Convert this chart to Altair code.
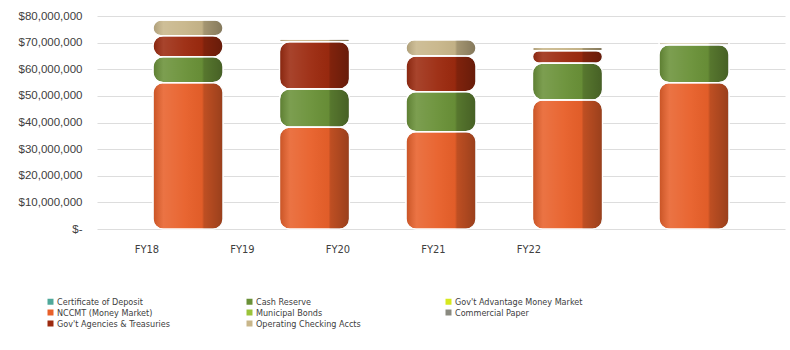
import altair as alt
import pandas as pd

years = ["FY18", "FY19", "FY20", "FY21", "FY22"]

# legend entries in the order the 3-column legend fills (column by column)
legend_series = [
    "Certificate of Deposit",
    "NCCMT (Money Market)",
    "Gov't Agencies & Treasuries",
    "Cash Reserve",
    "Municipal Bonds",
    "Operating Checking Accts",
    "Gov't Advantage Money Market",
    "Commercial Paper",
]
legend_colors = [
    "#4FA89A",
    "#E8602A",
    "#9C2A0F",
    "#6A9138",
    "#9BC33A",
    "#C8B68A",
    "#D6E81E",
    "#8A8A80",
]

# values (dollars)
nccmt = [55.0e6, 38.3e6, 36.6e6, 48.5e6, 55.0e6]
cash_reserve = [9.7e6, 14.3e6, 15.0e6, 13.8e6, 14.2e6]
agencies = [7.9e6, 17.8e6, 13.4e6, 4.7e6, 0.0]
operating = [5.8e6, 0.9e6, 6.0e6, 1.2e6, 0.8e6]

stack_series = [
    ("NCCMT (Money Market)", nccmt),
    ("Cash Reserve", cash_reserve),
    ("Gov't Agencies & Treasuries", agencies),
    ("Operating Checking Accts", operating),
]

rows = []
for k, (name, vals) in enumerate(stack_series):
    for yr, v in zip(years, vals):
        rows.append({"year": yr, "series": name, "value": v, "ord": k})
df = pd.DataFrame(rows)

FONT = "Liberation Sans Narrow, DejaVu Sans Condensed, Arial Narrow, Liberation Sans, sans-serif"

x_enc = alt.X("year:N", sort=years, axis=None,
              scale=alt.Scale(paddingInner=0.447, paddingOuter=0.443))
y_enc = alt.Y(
    "y0:Q",
    scale=alt.Scale(domain=[0, 80e6], nice=False),
    axis=alt.Axis(
        values=[i * 10e6 for i in range(9)],
        labelExpr="datum.value == 0 ? '$-' : format(datum.value, '$,.0f')",
        title=None, domain=False, ticks=False, labelPadding=15,
        labelFont="Liberation Sans, Arial, sans-serif", labelFontSize=11.5,
        labelColor="#404040", gridColor="#DDDDDD", gridWidth=1,
    ),
)

base = alt.Chart(df).transform_stack(
    stack="value", groupby=["year"], as_=["y0", "y1"],
    sort=[alt.SortField("ord")],
).encode(x=x_enc, y=y_enc, y2="y1:Q")

bars = base.mark_bar(cornerRadius=10, stroke="white", strokeWidth=1.2).encode(
    color=alt.Color(
        "series:N",
        scale=alt.Scale(domain=legend_series, range=legend_colors),
        legend=alt.Legend(
            orient="none", legendX=-51, legendY=281, columns=3,
            title=None, symbolType="square", symbolSize=36,
            symbolStrokeWidth=0, labelFont=FONT, labelFontSize=9,
            labelColor="#404040", labelOffset=2, columnPadding=60,
            rowPadding=1, gridAlign="all", padding=0, labelLimit=200,
        ),
    )
)

shade_grad = alt.LinearGradient(
    gradient="linear", x1=0, x2=1, y1=0, y2=0,
    stops=[
        alt.GradientStop(offset=0, color="rgba(0,0,0,0.14)"),
        alt.GradientStop(offset=0.15, color="rgba(255,255,255,0.12)"),
        alt.GradientStop(offset=0.45, color="rgba(255,255,255,0.04)"),
        alt.GradientStop(offset=0.70, color="rgba(0,0,0,0.03)"),
        alt.GradientStop(offset=0.73, color="rgba(0,0,0,0.18)"),
        alt.GradientStop(offset=1, color="rgba(0,0,0,0.34)"),
    ],
)
shade = base.mark_bar(cornerRadius=10, color=shade_grad, stroke="white",
                      strokeWidth=1.2)

labels = alt.Chart(pd.DataFrame({"year": years})).mark_text(
    font=FONT, fontSize=11, color="#404040", baseline="middle", align="center"
).encode(
    x=alt.X("year:N", sort=years, axis=None,
            scale=alt.Scale(type="point", range=[50, 432], padding=0)),
    y=alt.value(234),
    text="year:N",
)

chart = (
    alt.layer(bars, shade, labels)
    .resolve_scale(x="independent")
    .properties(
        width=688, height=213,
        autosize=alt.AutoSizeParams(type="none"),
        padding={"left": 97, "top": 16, "right": 5, "bottom": 121},
        background="white",
    )
    .configure_view(stroke=None)
)

chart.save("out.html", embed_options={"renderer": "svg", "actions": False})
